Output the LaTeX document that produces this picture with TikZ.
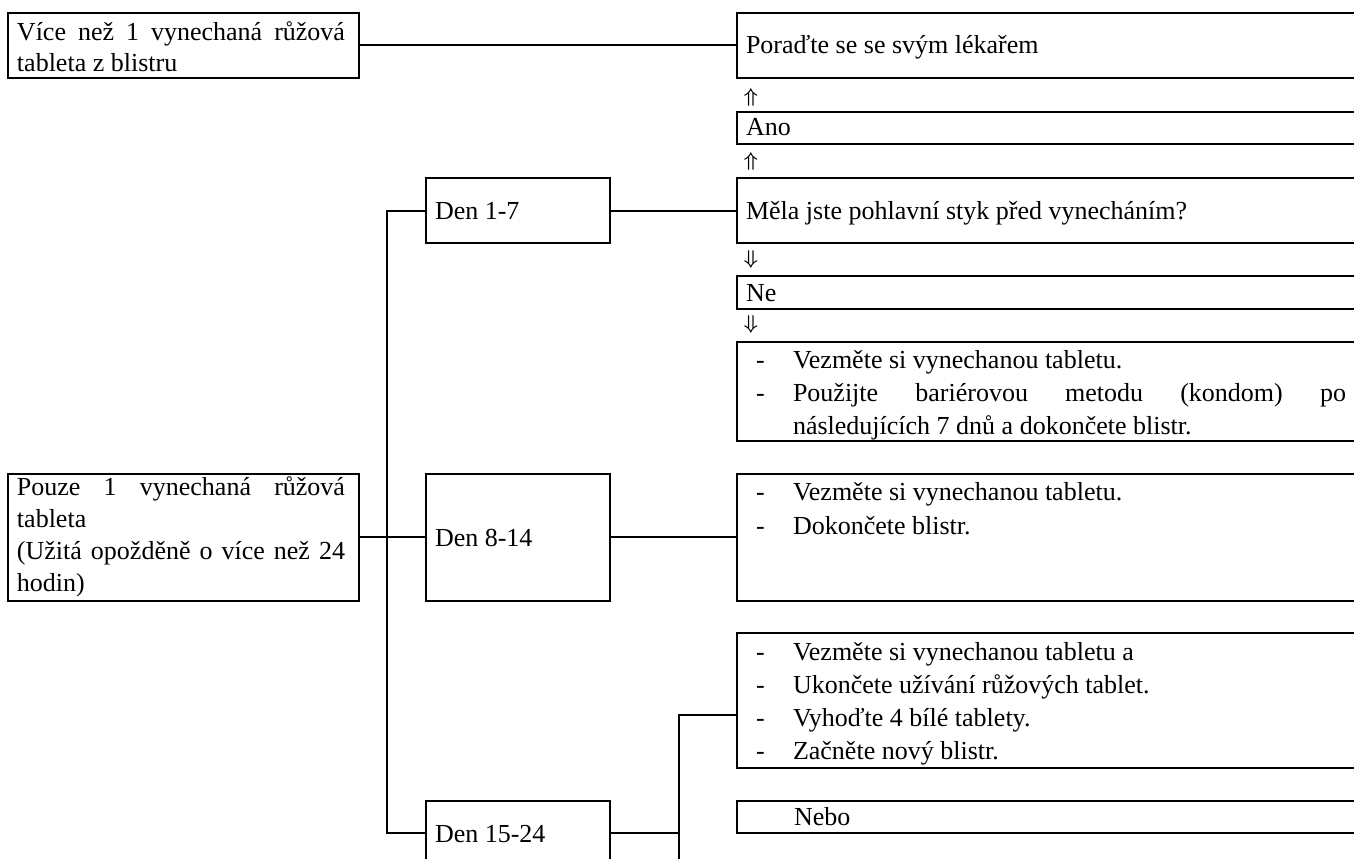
\documentclass[tikz,border=0pt]{standalone}
\usepackage{fontspec}
\setmainfont{Liberation Serif}
\newlength\pxu \setlength\pxu{0.5pt}
% width px, height px, first-baseline offset px, baselineskip, content
\newcommand\boxtext[5]{\parbox[c][#2\pxu][t]{#1\pxu}{\fontsize{13pt}{#4}\selectfont\rule{0pt}{#3\pxu}#5}}
\newcommand\hsp[1]{\hspace*{#1\pxu}}
\newcommand\bul[1]{\hspace*{19\pxu}\makebox[37\pxu][l]{-}#1}
\begin{document}
\begin{tikzpicture}[x=0.5pt,y=-0.5pt,
  box/.style={draw, line width=1pt, inner sep=0pt, outer sep=0pt, anchor=north west, rectangle},
  conn/.style={line width=1pt},
  arr/.style={inner sep=0pt, font=\fontsize{10pt}{10pt}\selectfont\boldmath}]
\useasboundingbox (0,0) rectangle (1354,858);
\clip (0,0) rectangle (1354,858);

% left column
\node[box] (vice) at (8,12.7) {\boxtext{351}{65}{27.3}{15.5pt}{\hsp{9}\makebox[328\pxu][s]{Více než 1 vynechaná růžová}\\\hsp{9}tableta z blistru}};
\node[box] (pouze) at (8,473.7) {\boxtext{351}{127}{22}{16pt}{\hsp{9}\makebox[328\pxu][s]{Pouze 1 vynechaná růžová}\\\hsp{9}tableta\\\hsp{9}\makebox[328\pxu][s]{(Užitá opožděně o více než 24}\\\hsp{9}hodin)}};

% day boxes
\node[box] (den1) at (426,178.3) {\boxtext{184}{64.4}{40.7}{16pt}{\hsp{9}Den 1-7}};
\node[box] (den8) at (426,473.7) {\boxtext{184}{127}{72.6}{16pt}{\hsp{9}Den 8-14}};
\node[box] (den15) at (426,800.7) {\boxtext{184}{64.4}{41.6}{16pt}{\hsp{9}Den 15-24}};

% right column
\node[box] (porad) at (737,12.7) {\boxtext{633}{65}{41}{16pt}{\hsp{9}Poraďte se se svým lékařem}};
\node[arr] (au1) at (751,97.5) {$\Uparrow$};
\node[box] (ano) at (737,111.5) {\boxtext{633}{32.5}{24}{16pt}{\hsp{9}Ano}};
\node[arr] (au2) at (751,161.5) {$\Uparrow$};
\node[box] (mela) at (737,178.3) {\boxtext{633}{64.4}{40.7}{16pt}{\hsp{9}Měla jste pohlavní styk před vynecháním?}};
\node[arr] (ad1) at (751,259) {$\Downarrow$};
\node[box] (ne) at (737,276) {\boxtext{633}{32.7}{25}{16pt}{\hsp{9}Ne}};
\node[arr] (ad2) at (751,324.5) {$\Downarrow$};
\node[box] (b1) at (737,341.7) {\boxtext{633}{99}{26.9}{16.5pt}{\bul{Vezměte si vynechanou tabletu.}\\\bul{\makebox[553\pxu][s]{Použijte bariérovou metodu (kondom) po}}\\\hsp{56}následujících 7 dnů a dokončete blistr.}};
\node[box] (b2) at (737,473.7) {\boxtext{633}{127}{26.3}{17pt}{\bul{Vezměte si vynechanou tabletu.}\\\bul{Dokončete blistr.}}};
\node[box] (b3) at (737,633) {\boxtext{633}{135}{27.6}{16.4pt}{\bul{Vezměte si vynechanou tabletu a}\\\bul{Ukončete užívání růžových tablet.}\\\bul{Vyhoďte 4 bílé tablety.}\\\bul{Začněte nový blistr.}}};
\node[box] (nebo) at (737,800.7) {\boxtext{633}{32.3}{24.3}{16pt}{\hsp{57}Nebo}};

% connectors
\coordinate (tx) at (386.7,0);
\coordinate (jt) at (679,715.3);
\coordinate (jb) at (679,870);
\draw[conn] (vice.east) -- (porad.west);
\draw[conn] (den1.east) -- (mela.west);
\draw[conn] (pouze.east) -- (den8.west);
\draw[conn] (den8.east) -- (b2.west);
\draw[conn] (den1.west) -- (den1.west -| tx) -- (den15.west -| tx) -- (den15.west);
\draw[conn] (den15.east) -- (den15.east -| jt);
\draw[conn] (jb) -- (jt) -- (jt -| b3.west);
\end{tikzpicture}
\end{document}
